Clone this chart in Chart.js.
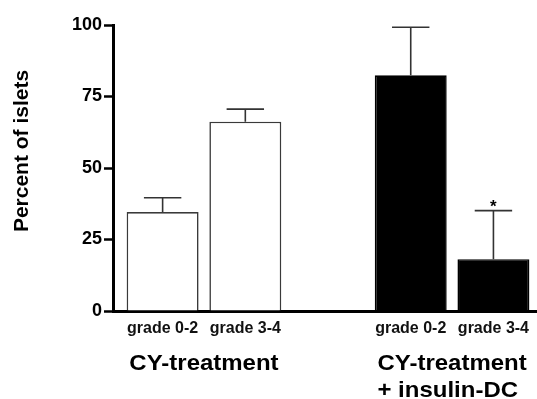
<!DOCTYPE html>
<html>
<head>
<meta charset="utf-8">
<script src="https://cdn.jsdelivr.net/npm/chart.js@4"></script>
<style>
  html, body { margin: 0; padding: 0; background: #fff; }
  #wrap { width: 537px; height: 399px; }
</style>
</head>
<body>
<div id="wrap"><canvas id="isletChart" width="537" height="399"></canvas></div>
<script>
// dados
const xLabels = ["grade 0-2", "grade 3-4", "grade 0-2", "grade 3-4"];
const slots = [0, 1, 3, 4];            // posição de categoria (a 2 é o espaço entre grupos)
const percent = [34.6, 66.2, 82.4, 18.1];
const sem = [5.0, 4.4, 16.8, 17.0];    // barra de erro (só para cima)
const signif = ["", "", "", "*"];
const groups = [
  { lines: ["CY-treatment"], slots: [0, 1] },
  { lines: ["CY-treatment", "+ insulin-DC"], slots: [3, 4] }
];
const yTicks = [0, 25, 50, 75, 100];
const yTitle = "Percent of islets";

const FONT = "'Liberation Sans', Arial, Helvetica, sans-serif";
const fills = ["#ffffff", "#ffffff", "#000000", "#000000"];
const borders = ["#3a3a3a", "#3a3a3a", "#000000", "#000000"];

// barras de erro + asterisco
const errorBars = {
  id: "errorBars",
  afterDatasetsDraw(chart) {
    const ctx = chart.ctx;
    const meta = chart.getDatasetMeta(0);
    const y = chart.scales.y;
    ctx.save();
    ctx.strokeStyle = "#333";
    ctx.lineWidth = 1.6;
    meta.data.forEach((bar, i) => {
      const top = y.getPixelForValue(percent[i]);
      const end = y.getPixelForValue(percent[i] + sem[i]);
      const half = bar.width * 0.26;
      ctx.beginPath();
      ctx.moveTo(bar.x, top);
      ctx.lineTo(bar.x, end);
      ctx.moveTo(bar.x - half, end);
      ctx.lineTo(bar.x + half, end);
      ctx.stroke();
      if (signif[i]) {
        ctx.fillStyle = "#000";
        ctx.font = "bold 17px " + FONT;
        ctx.textAlign = "center";
        ctx.textBaseline = "alphabetic";
        ctx.fillText(signif[i], bar.x, end + 1);
      }
    });
    ctx.restore();
  }
};

// títulos dos grupos e do eixo y
const extraText = {
  id: "extraText",
  afterDraw(chart) {
    const ctx = chart.ctx;
    const x = chart.scales.x;
    const stretch = 1.09; // o texto original é um pouco mais largo
    ctx.save();
    ctx.fillStyle = "#000";
    ctx.font = "bold 22px " + FONT;
    ctx.textBaseline = "alphabetic";
    ctx.textAlign = "left";
    groups.forEach(g => {
      const cx = (x.getPixelForValue(g.slots[0]) + x.getPixelForValue(g.slots[1])) / 2;
      const left = cx - ctx.measureText(g.lines[0]).width * stretch / 2;
      g.lines.forEach((line, k) => {
        ctx.save();
        ctx.translate(left, 370 + k * 27);
        ctx.scale(stretch, 1);
        ctx.fillText(line, 0, 0);
        ctx.restore();
      });
    });

    ctx.font = "bold 21px " + FONT;
    ctx.translate(28, 151);
    ctx.rotate(-Math.PI / 2);
    ctx.textAlign = "center";
    ctx.fillText(yTitle, 0, 0);
    ctx.restore();
  }
};

new Chart(document.getElementById("isletChart"), {
  type: "bar",
  data: {
    datasets: [{
      data: slots.map((s, i) => ({ x: s, y: percent[i] })),
      backgroundColor: fills,
      borderColor: borders,
      borderWidth: 1.6,
      borderSkipped: "bottom",
      barPercentage: 0.87,
      categoryPercentage: 1
    }]
  },
  options: {
    responsive: false,
    animation: false,
    layout: { padding: { top: 25, left: 0, right: 0, bottom: 0 } },
    plugins: {
      legend: { display: false },
      tooltip: { enabled: false }
    },
    scales: {
      x: {
        type: "linear",
        min: -0.6,
        max: 4.52,
        offset: false,
        grid: { display: false, drawTicks: false },
        border: { display: true, color: "#000", width: 3 },
        afterBuildTicks: scale => { scale.ticks = slots.map(v => ({ value: v })); },
        afterFit: scale => { scale.height = 88; },
        ticks: {
          autoSkip: false,
          maxRotation: 0,
          padding: 8,
          color: "#111",
          font: { family: FONT, size: 16, weight: "bold" },
          callback: (value, index) => xLabels[index]
        }
      },
      y: {
        min: 0,
        max: 100,
        afterBuildTicks: scale => { scale.ticks = yTicks.map(v => ({ value: v })); },
        afterFit: scale => { scale.width = 113; },
        grid: {
          display: true,
          drawOnChartArea: false,
          drawTicks: true,
          tickLength: 9,
          tickWidth: 2.5,
          tickColor: "#000"
        },
        border: { display: true, color: "#000", width: 3 },
        ticks: {
          padding: 2,
          color: "#000",
          font: { family: FONT, size: 18, weight: "bold" }
        }
      }
    }
  },
  plugins: [errorBars, extraText]
});
</script>
</body>
</html>
